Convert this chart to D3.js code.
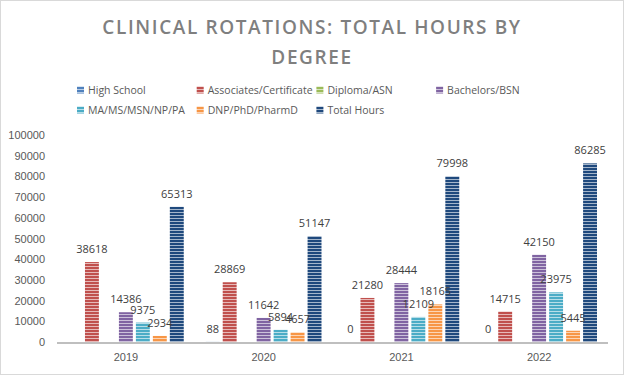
<!DOCTYPE html>
<html lang="en">
<head>
<meta charset="UTF-8">
<title>Clinical Rotations: Total Hours by Degree</title>
<script src="https://d3js.org/d3.v7.min.js"></script>
<style>
    body { margin: 0; padding: 0; background: #fff; font-family: 'Open Sans', 'Noto Sans', sans-serif; }
    .title { font-size: 19px; font-weight: 600; fill: #7f7f7f; letter-spacing: 1.6px; }
    .legend text { font-size: 10.5px; fill: #595959; }
    .axis text { font-size: 11px; fill: #595959; }
    .label { font-size: 11px; fill: #404040; }
</style>
</head>
<body>
<svg id="chart"></svg>
<script>
    // Data
    const years = ["2019", "2020", "2021", "2022"];
    const series = ["High School", "Associates/Certificate", "Diploma/ASN", "Bachelors/BSN",
                    "MA/MS/MSN/NP/PA", "DNP/PhD/PharmD", "Total Hours"];
    const highSchool = [null, 88, 0, 0];
    const associates = [38618, 28869, 21280, 14715];
    const diploma = [null, null, null, null];
    const bachelors = [14386, 11642, 28444, 42150];
    const masters = [9375, 5894, 12109, 23975];
    const doctorate = [2934, 4657, 18165, 5445];
    const totalHours = [65313, 51147, 79998, 86285];
    const yTicks = [0, 10000, 20000, 30000, 40000, 50000, 60000, 70000, 80000, 90000, 100000];

    const values = [highSchool, associates, diploma, bachelors, masters, doctorate, totalHours];
    const colors = ["#4f81bd", "#c0504d", "#9bbb59", "#8064a2", "#4bacc6", "#f79646", "#1f497d"];

    const W = 624, H = 375;
    const plot = { left: 57, right: 608, top: 135, bottom: 342 };

    const svg = d3.select("#chart").attr("width", W).attr("height", H);

    // outer chart border
    svg.append("rect")
        .attr("x", 0.5).attr("y", 0.5)
        .attr("width", W - 1).attr("height", H - 1)
        .attr("fill", "#fff").attr("stroke", "#d9d9d9");

    // striped patterns
    const defs = svg.append("defs");
    colors.forEach((c, i) => {
        const p = defs.append("pattern")
            .attr("id", "pat" + i)
            .attr("patternUnits", "userSpaceOnUse")
            .attr("width", 6).attr("height", 3);
        p.append("rect").attr("width", 6).attr("height", 3).attr("fill", c);
        p.append("rect").attr("y", 2).attr("width", 6).attr("height", 1)
            .attr("fill", "#fff").attr("opacity", 0.6);
    });

    // title
    const title = svg.append("text").attr("class", "title").attr("text-anchor", "middle");
    title.append("tspan").attr("x", W / 2).attr("y", 34).text("CLINICAL ROTATIONS: TOTAL HOURS BY");
    title.append("tspan").attr("x", W / 2).attr("y", 64).text("DEGREE");

    // legend
    const legend = svg.append("g").attr("class", "legend");
    series.forEach((s, i) => {
        const col = i % 4, row = Math.floor(i / 4);
        const g = legend.append("g")
            .attr("transform", `translate(${77 + col * 119.7},${90 + row * 20})`);
        g.append("rect").attr("x", 0).attr("y", -3.5).attr("width", 7).attr("height", 7)
            .attr("fill", `url(#pat${i})`);
        g.append("text").attr("x", 11).attr("y", 4).text(s);
    });

    // scales
    const x0 = d3.scaleBand().domain(years).range([plot.left, plot.right]);
    const pad = 11;
    const x1 = d3.scaleBand().domain(series)
        .range([pad, x0.bandwidth() - pad]).paddingInner(0.18);
    const y = d3.scaleLinear().domain([0, 100000]).range([plot.bottom, plot.top]);

    // y axis labels
    const yAxis = svg.append("g").attr("class", "axis")
        .attr("transform", `translate(${plot.left - 12},0)`)
        .call(d3.axisLeft(y).tickValues(yTicks).tickSize(0).tickPadding(0).tickFormat(d3.format("d")));
    yAxis.select(".domain").remove();

    // flat list of points
    const points = [];
    years.forEach((yr, yi) => {
        series.forEach((s, si) => {
            if (values[si][yi] !== null) points.push({ yr, s, si, v: values[si][yi] });
        });
    });

    // bars
    svg.append("g").selectAll("rect")
        .data(points).join("rect")
        .attr("x", d => x0(d.yr) + x1(d.s))
        .attr("y", d => y(d.v))
        .attr("width", x1.bandwidth())
        .attr("height", d => y(0) - y(d.v))
        .attr("fill", d => `url(#pat${d.si})`);

    // x axis
    svg.append("line")
        .attr("x1", plot.left).attr("x2", plot.right)
        .attr("y1", plot.bottom + 1).attr("y2", plot.bottom + 1)
        .attr("stroke", "#bfbfbf").attr("stroke-width", 2);

    svg.append("g").attr("class", "axis")
        .attr("transform", `translate(0,${plot.bottom + 1})`)
        .call(d3.axisBottom(x0).tickSize(0).tickPadding(10))
        .select(".domain").remove();

    // data labels on top of all bars
    svg.append("g").selectAll("text")
        .data(points).join("text")
        .attr("class", "label")
        .attr("text-anchor", "middle")
        .attr("x", d => x0(d.yr) + x1(d.s) + x1.bandwidth() / 2)
        .attr("y", d => y(d.v) - 9)
        .text(d => d.v);
</script>
</body>
</html>
